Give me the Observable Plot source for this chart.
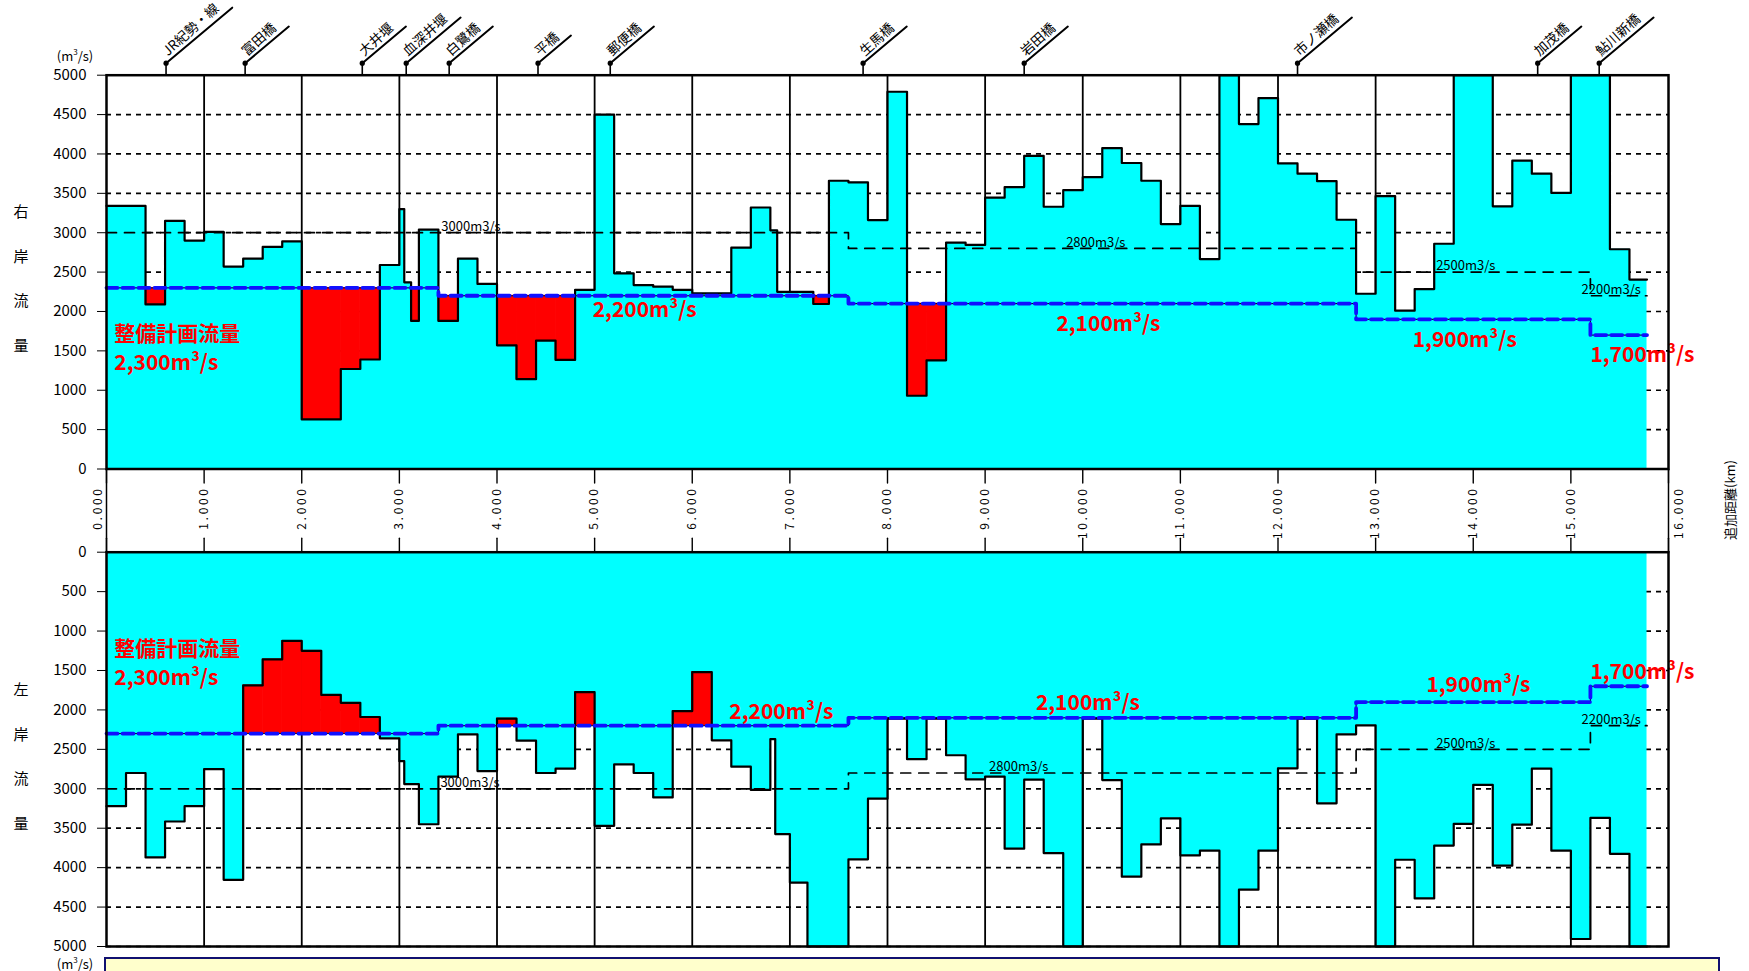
<!DOCTYPE html>
<html><head><meta charset="utf-8">
<script src="https://cdn.jsdelivr.net/npm/d3@7"></script>
<script src="https://cdn.jsdelivr.net/npm/@observablehq/plot@0.6"></script>
<style>
body{margin:0;background:#fff;width:1749px;height:971px;overflow:hidden;position:relative;font-family:"Noto Sans CJK JP","Noto Sans",sans-serif;}
.t{position:absolute;transform:translate(-50%,-50%);white-space:nowrap;color:#000;line-height:1;}
</style></head><body>
<script>
// ---------- data ----------
const bridgeNames = ["JR紀勢・線","富田橋","大井堰","血深井堰","白鷺橋","平橋","郵便橋","生馬橋","岩田橋","市ノ瀬橋","加茂橋","鮎川新橋"];
const bridgeKm    = [0.61, 1.42, 2.62, 3.07, 3.51, 4.42, 5.16, 7.75, 9.40, 12.20, 14.66, 15.29];

// right bank (右岸) flow capacity: section boundaries (km) and capacity (m3/s)
const rightKm = [0,0.4,0.6,0.8,1.0,1.2,1.4,1.6,1.8,2.0,2.4,2.6,2.8,3.0,3.05,3.12,3.2,3.4,3.6,3.8,4.0,4.2,4.4,4.6,4.8,5.0,5.2,5.4,5.6,5.8,6.0,6.4,6.6,6.8,6.87,7.24,7.4,7.6,7.8,8.0,8.2,8.4,8.6,8.8,9.0,9.2,9.4,9.6,9.8,10.0,10.2,10.4,10.6,10.8,11.0,11.2,11.4,11.6,11.8,12.0,12.2,12.4,12.6,12.8,13.0,13.2,13.4,13.6,13.8,14.2,14.4,14.6,14.8,15.0,15.4,15.6,15.78];
const rightQ  = [3340,2090,3150,2900,3010,2570,2670,2820,2890,630,1270,1390,2590,3300,2370,1880,3040,1880,2670,2350,1570,1140,1630,1385,2275,4500,2485,2335,2315,2275,2230,2810,3320,3030,2250,2095,3660,3640,3160,4790,930,1380,2875,2845,3445,3580,3975,3330,3540,3705,4075,3885,3660,3110,3340,2665,5500,4380,4710,3880,3750,3655,3165,2225,3465,2010,2285,2860,5500,3335,3915,3750,3505,5500,2790,2405];

// left bank (左岸)
const leftKm = [0,0.2,0.4,0.6,0.8,1.0,1.2,1.4,1.6,1.8,2.0,2.2,2.4,2.6,2.8,3.0,3.05,3.2,3.4,3.6,3.8,4.0,4.2,4.4,4.6,4.8,5.0,5.2,5.4,5.6,5.8,6.0,6.2,6.4,6.6,6.8,6.85,7.0,7.18,7.6,7.8,8.0,8.2,8.4,8.6,8.8,9.0,9.2,9.4,9.6,9.8,10.0,10.2,10.4,10.6,10.8,11.0,11.2,11.4,11.6,11.8,12.0,12.2,12.4,12.6,12.8,13.0,13.2,13.4,13.6,13.8,14.0,14.2,14.4,14.6,14.8,15.0,15.2,15.4,15.6,15.78];
const leftQ  = [3220,2800,3870,3415,3220,2750,4155,1690,1360,1125,1250,1810,1910,2090,2360,2650,2940,3450,2845,2310,2775,2110,2390,2800,2745,1775,3470,2690,2800,3110,2015,1520,2385,2720,3015,2370,3575,4190,5500,3895,3125,2110,2625,2110,2575,2880,2845,3760,2885,3815,5500,2110,2890,4115,3705,3375,3845,3785,5500,4280,3785,2740,2110,3185,2310,2195,5500,3900,4390,3720,3445,2950,3975,3455,2745,3785,4905,3370,3825,5500];

// 整備計画流量 (plan flow) and reference flow
const planKm = [0,3.4,7.6,12.8,15.2,15.78];
const planQ  = [2300,2200,2100,1900,1700];
const refKm  = [0,7.6,12.8,15.2,15.78];
const refQ   = [3000,2800,2500,2200];

const kmTicks   = d3.range(0,17);
const flowTicks = d3.range(0,5001,500);

const planText     = ["整備計画流量","2,300m³/s","2,200m³/s","2,100m³/s","1,900m³/s","1,700m³/s"];
const rightLabelKm = [0.08,0.08,4.98,9.73,13.38,15.20];
const rightLabelQ  = [1714,1346,2012,1841,1631,1445];
const leftLabelKm  = [0.08,0.08,6.38,9.52,13.52,15.20];
const leftLabelQ   = [1234,1603,2028,1915,1689,1519];
const refText      = refQ.map(q => q + "m3/s");
const rightRefKm   = [3.43,9.83,13.62,15.11];
const leftRefKm    = [3.42,9.04,13.62,15.11];

// ---------- helpers ----------
const TOP = 5000;
function planAt(x){ for(let i=0;i<planQ.length;i++){ if(x>=planKm[i] && x<planKm[i+1]) return planQ[i]; } return planQ[planQ.length-1]; }
function segs(km,q){ return q.map((v,i)=>({x1:km[i],x2:km[i+1],v,plan:planAt((km[i]+km[i+1])/2)})); }
function steps(km,q){ const p=q.map((v,i)=>({x:km[i],y:Math.min(v,TOP)})); p.push({x:km[km.length-1],y:Math.min(q[q.length-1],TOP)}); return p; }
function stepsOf(km,q){ const p=q.map((v,i)=>({x:km[i],y:v})); p.push({x:km[km.length-1],y:q[q.length-1]}); return p; }
const lineShape = {draw(ctx,l){ ctx.moveTo(0,0); ctx.lineTo(0,-l); }};
const fontJP = "'Noto Sans CJK JP','Noto Sans',sans-serif";
const widthUnits = s => [...s].reduce((a,c)=>a+(c.charCodeAt(0)<128?0.55:1),0);
const spaced = k => d3.format(".3f")(k).split("").join(" ");

const planPts = stepsOf(planKm, planQ);
const refPts  = stepsOf(refKm, refQ);
const bridges = bridgeNames.map((n,i)=>({name:n,km:bridgeKm[i],len:14*widthUnits(n)+15}));

const CYAN="#00ffff", RED="#ff0000", BLUE="#1010ff";

function bankMarks(km, q, labelKm, labelQ, refLabelKm){
  const pts = steps(km,q);
  const red = segs(km,q).filter(d=>d.v<d.plan);
  const lbl = planText.map((t,i)=>({t,x:labelKm[i],y:labelQ[i]}));
  const rl  = refText.map((t,i)=>({t,x:refLabelKm[i],y:refQ[i]}));
  return [
    Plot.ruleY(flowTicks.filter(d=>d>0), {stroke:"#000", strokeWidth:1.7, strokeDasharray:"5,5"}),
    Plot.ruleX(d3.range(1,16), {stroke:"#000", strokeWidth:1.8}),
    Plot.areaY(pts, {x:"x", y:"y", curve:"step-after", fill:CYAN}),
    Plot.rect(red, {x1:"x1", x2:"x2", y1:"v", y2:"plan", fill:RED, stroke:RED, strokeWidth:0.8}),
    Plot.line(refPts, {x:"x", y:"y", curve:"step-after", stroke:"#000", strokeWidth:1.7, strokeDasharray:"10,8"}),
    Plot.line(pts, {x:"x", y:"y", curve:"step-after", stroke:"#000", strokeWidth:2.2}),
    Plot.line(planPts, {x:"x", y:"y", curve:"step-after", stroke:"#000", strokeWidth:1}),
    Plot.line(planPts, {x:"x", y:"y", curve:"step-after", stroke:BLUE, strokeWidth:3.8, strokeDasharray:"11,5"}),
    Plot.text(rl, {x:"x", y:"y", text:"t", textAnchor:"start", dy:-6, fontSize:13, fill:"#000", fontFamily:fontJP}),
    Plot.text(lbl, {x:"x", y:"y", text:"t", textAnchor:"start", fontSize:21, fontWeight:"bold", fill:RED, fontFamily:fontJP}),
    Plot.frame({stroke:"#000", strokeWidth:2.5})
  ];
}

const baseStyle = {fontFamily:fontJP, fontSize:"15px", background:"transparent", overflow:"visible", color:"#000"};

const upper = Plot.plot({
  width:1749, height:553,
  marginLeft:106, marginRight:81, marginTop:74.7, marginBottom:84.5,
  x:{domain:[0,16], axis:null},
  y:{domain:[0,5000], ticks:flowTicks, tickSize:9, tickPadding:11, tickFormat:d=>String(d), label:null},
  length:{domain:[0,200], range:[0,200]},
  style:baseStyle,
  marks:[
    ...bankMarks(rightKm, rightQ, rightLabelKm, rightLabelQ, rightRefKm),
    // bridge markers
    Plot.vector(bridges, {x:"km", y:TOP, length:12, rotate:0, anchor:"start", shape:lineShape, stroke:"#000", strokeWidth:1.6}),
    Plot.dot(bridges, {x:"km", y:TOP, dy:-12, r:2.6, fill:"#000"}),
    Plot.vector(bridges, {x:"km", y:TOP, dy:-12, length:"len", rotate:50, anchor:"start", shape:lineShape, stroke:"#000", strokeWidth:2}),
    Plot.text(bridges, {x:"km", y:TOP, text:"name", rotate:-42, textAnchor:"start", dx:-1, dy:-22, fontSize:13.5, fill:"#000", fontFamily:fontJP}),
    // km axis in the middle band
    Plot.vector(kmTicks, {x:d=>d, y:0, length:14, rotate:180, anchor:"start", shape:lineShape, stroke:"#000", strokeWidth:1.4}),
    Plot.vector([0,16], {x:d=>d, y:0, length:84, rotate:180, anchor:"start", shape:lineShape, stroke:"#000", strokeWidth:1.5}),
    Plot.text(kmTicks.slice(1,16), {x:d=>d, y:0, text:spaced, rotate:-90, textAnchor:"end", dy:20, fontSize:12, fill:"#000", fontFamily:fontJP}),
    Plot.text([0], {x:d=>d, y:0, text:spaced, rotate:-90, textAnchor:"end", dy:20, dx:-8, fontSize:12, fill:"#000", fontFamily:fontJP}),
    Plot.text([16], {x:d=>d, y:0, text:spaced, rotate:-90, textAnchor:"end", dy:20, dx:11, fontSize:12, fill:"#000", fontFamily:fontJP})
  ]
});

const lower = Plot.plot({
  width:1749, height:431,
  marginLeft:106, marginRight:81, marginTop:11.7, marginBottom:25,
  x:{domain:[0,16], axis:null},
  y:{domain:[0,5000], reverse:true, ticks:flowTicks, tickSize:9, tickPadding:11, tickFormat:d=>String(d), label:null},
  length:{domain:[0,200], range:[0,200]},
  style:baseStyle,
  marks:[
    ...bankMarks(leftKm, leftQ, leftLabelKm, leftLabelQ, leftRefKm),
    Plot.vector(kmTicks, {x:d=>d, y:0, length:14, rotate:0, anchor:"start", shape:lineShape, stroke:"#000", strokeWidth:1.4})
  ]
});

function place(el, top, z){ const d=document.createElement("div"); d.style.cssText=`position:absolute;left:0;top:${top}px;z-index:${z}`; d.appendChild(el); document.body.appendChild(d); return d; }
place(upper, 0, 2);
place(lower, 540, 1);

function label(text, x, y, size, extra){ const d=document.createElement("div"); d.className="t"; d.style.left=x+"px"; d.style.top=y+"px"; d.style.fontSize=size+"px"; d.style.zIndex=5; if(extra) d.style.cssText+=extra; d.innerHTML=text; document.body.appendChild(d); }
label("(m<span style='font-size:8px;vertical-align:6px'>3</span>/s)", 75, 55, 13);
label("(m<span style='font-size:8px;vertical-align:6px'>3</span>/s)", 75, 963, 13);
["右","岸","流","量"].forEach((c,i)=>label(c, 21, 210+i*44.5, 15));
["左","岸","流","量"].forEach((c,i)=>label(c, 21, 688+i*44.5, 15));
label("追加距離(km)", 1729, 500, 13, "transform:translate(-50%,-50%) rotate(-90deg);");
const box=document.createElement("div");
box.style.cssText="position:absolute;left:104px;top:957px;width:1616px;height:40px;border:2px solid #101070;background:#ffffcc;z-index:4;box-sizing:border-box;";
document.body.appendChild(box);
</script>
</body></html>
